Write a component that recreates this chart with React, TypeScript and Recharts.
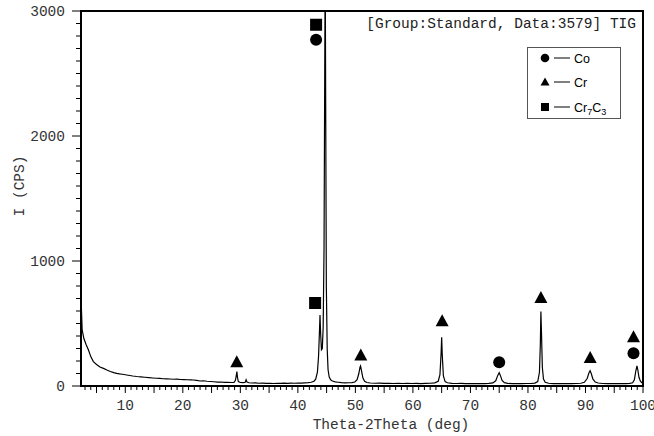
import { ComposedChart, Line, Scatter, XAxis, YAxis, ReferenceArea, Legend } from "recharts";

// measured pattern: [2theta (deg), intensity (CPS)]
const pattern: [number, number][] = [
  [2.35, 650], [2.5, 450], [2.8, 380], [3.2, 330], [3.6, 288], [4.0, 235], [4.45, 195], [5.0, 172], [5.6, 152], [6.2, 141],
  [6.8, 128], [7.4, 116], [8.0, 107], [8.5, 101], [9.0, 97], [9.5, 94], [10.0, 90], [10.5, 86], [11.3, 80], [12.0, 76],
  [12.7, 73], [13.4, 70], [14.1, 67], [14.8, 64], [15.4, 62], [16.0, 61], [16.6, 58], [17.2, 57], [17.8, 56], [18.4, 54],
  [19.0, 55], [19.6, 52], [20.2, 51], [20.8, 50], [21.4, 49], [21.8, 48], [22.4, 45], [23.0, 40], [23.6, 42], [24.2, 38],
  [24.8, 36], [25.4, 34], [26.0, 31], [26.6, 32], [27.2, 29], [27.8, 30], [28.4, 28], [28.9, 29], [29.15, 45], [29.3, 85],
  [29.4, 115], [29.5, 70], [29.65, 35], [30.0, 28], [30.5, 27], [30.85, 30], [31.0, 50], [31.15, 32], [31.5, 26], [32.0, 24],
  [32.6, 25], [33.2, 22], [33.8, 23], [34.6, 21], [35.2, 22], [35.8, 20], [36.4, 22], [37.0, 21], [37.6, 23], [38.2, 21],
  [38.8, 23], [39.4, 22], [40.0, 24], [40.6, 23], [41.2, 25], [41.8, 27], [42.3, 30], [42.8, 38], [43.1, 55], [43.4, 110],
  [43.6, 240], [43.75, 430], [43.85, 568], [43.95, 430], [44.1, 290], [44.25, 300], [44.4, 470], [44.55, 1100], [44.65, 2250], [44.75, 3400],
  [44.85, 2100], [44.95, 800], [45.1, 300], [45.25, 130], [45.45, 72], [45.7, 50], [46.0, 40], [46.5, 33], [47.0, 30], [47.6, 27],
  [48.2, 25], [48.8, 26], [49.4, 27], [49.9, 32], [50.3, 50], [50.6, 100], [50.8, 150], [50.9, 160], [51.05, 125], [51.3, 65],
  [51.6, 38], [52.0, 28], [52.6, 24], [53.4, 22], [54.2, 23], [55.0, 21], [55.8, 22], [56.6, 20], [57.4, 21], [58.2, 20],
  [59.0, 21], [59.8, 20], [60.6, 21], [61.4, 19], [62.2, 21], [63.0, 22], [63.8, 25], [64.4, 38], [64.7, 90], [64.9, 260],
  [65.0, 389], [65.1, 250], [65.3, 80], [65.6, 35], [66.0, 26], [66.8, 21], [67.6, 20], [68.4, 21], [69.2, 19], [70.0, 20],
  [70.8, 19], [71.6, 20], [72.4, 19], [73.2, 21], [73.9, 25], [74.4, 42], [74.75, 85], [75.0, 107], [75.2, 85], [75.5, 45],
  [75.9, 27], [76.5, 21], [77.3, 19], [78.1, 20], [78.9, 19], [79.7, 20], [80.5, 20], [81.2, 23], [81.7, 35], [82.0, 110],
  [82.15, 330], [82.25, 595], [82.35, 430], [82.5, 150], [82.7, 55], [83.0, 30], [83.6, 22], [84.4, 19], [85.2, 20], [86.0, 19],
  [86.8, 20], [87.6, 19], [88.4, 20], [89.2, 22], [89.8, 30], [90.3, 60], [90.6, 105], [90.8, 123], [91.0, 100], [91.3, 55],
  [91.7, 32], [92.2, 24], [93.0, 20], [93.8, 19], [94.6, 20], [95.4, 19], [96.2, 20], [97.0, 19], [97.7, 21], [98.2, 26],
  [98.5, 50], [98.75, 120], [98.95, 160], [99.1, 130], [99.3, 70], [99.55, 38], [99.8, 27], [100, 23],
];

// phase markers placed above the peaks
const coMarks: [number, number][] = [[43.17, 2770], [75.0, 190], [98.35, 262]];
const crMarks: [number, number][] = [[29.38, 195], [50.94, 248], [65.08, 523], [82.25, 709], [90.82, 229], [98.35, 395]];
const cr7c3Marks: [number, number][] = [[43.17, 2890], [43.0, 664]];

const xDomain = [2.3, 100];
const yDomain = [0, 3000];
const xTicks = Array.from({ length: 98 }, (_, i) => i + 3);
const yTicks = Array.from({ length: 31 }, (_, i) => i * 100);

const title = "[Group:Standard, Data:3579] TIG";
const xTitle = "Theta-2Theta (deg)";
const yTitle = "I (CPS)";

const MONO = "'Liberation Mono', 'Courier New', monospace";
const toPts = (arr: [number, number][]) => arr.map(([x, y]) => ({ x, y }));

function XTick({ x, y, payload }: any) {
  const v = payload.value;
  const len = v % 5 === 0 ? 7 : 4;
  return (
    <g>
      <line x1={x} x2={x} y1={y} y2={y + len} stroke="#000" />
      {v % 10 === 0 && (
        <text x={x} y={y + 24} textAnchor="middle" fontFamily={MONO} fontSize={14.5} fill="#333">
          {v}
        </text>
      )}
    </g>
  );
}

function YTick({ x, y, payload }: any) {
  const v = payload.value;
  const major = v % 1000 === 0;
  return (
    <g>
      <line x1={x - (major ? 9 : 5)} x2={x} y1={y} y2={y} stroke="#000" />
      {major && (
        <text x={x - 16} y={y} dy="0.35em" textAnchor="end" fontFamily={MONO} fontSize={14.5} fill="#333">
          {v}
        </text>
      )}
    </g>
  );
}

const Circle = ({ cx, cy }: any) => <circle cx={cx} cy={cy} r={6} fill="#000" />;
const Triangle = ({ cx, cy }: any) => (
  <polygon points={`${cx},${cy - 6.5} ${cx - 6.5},${cy + 5.5} ${cx + 6.5},${cy + 5.5}`} fill="#000" />
);
const Square = ({ cx, cy }: any) => <rect x={cx - 6} y={cy - 6} width={12} height={12} fill="#000" />;

function LegendBox() {
  return (
    <div style={{ width: 92, height: 70, border: "1px solid #555", background: "#fff" }}>
      <svg width={92} height={70} style={{ display: "block" }}>
        <circle cx={17} cy={10} r={4.3} fill="#000" />
        <polygon points="17,29.5 12.5,37.5 21.5,37.5" fill="#000" />
        <rect x={13} y={55} width={8} height={8} fill="#000" />
        {[10, 34, 59].map((cy) => (
          <line key={cy} x1={26} x2={42} y1={cy} y2={cy} stroke="#000" />
        ))}
        <g fontFamily="'Liberation Sans', Arial, sans-serif" fontSize={12.5} fill="#000">
          <text x={46} y={14.5}>Co</text>
          <text x={46} y={38.5}>Cr</text>
          <text x={46} y={63.5}>
            Cr<tspan fontSize={9} dy={3}>7</tspan>
            <tspan dy={-3}>C</tspan>
            <tspan fontSize={9} dy={3}>3</tspan>
          </text>
        </g>
      </svg>
    </div>
  );
}

export default function App() {
  return (
    <div style={{ position: "absolute", left: 0, top: 0, background: "#fff" }}>
      <ComposedChart width={654} height={436} margin={{ top: 11, right: 11, left: 0, bottom: 0 }}>
        <XAxis
          type="number"
          dataKey="x"
          domain={xDomain}
          allowDataOverflow
          ticks={xTicks}
          interval={0}
          tickSize={0}
          tickMargin={0}
          axisLine={false}
          tickLine={false}
          tick={<XTick />}
          height={50}
          label={{
            content: ({ viewBox }: any) => (
              <text
                x={(viewBox?.x ?? 81) + (viewBox?.width ?? 562) / 2 + 29}
                y={(viewBox?.y ?? 386) + 43}
                textAnchor="middle"
                fontFamily={MONO}
                fontSize={14.5}
                fill="#333"
              >
                {xTitle}
              </text>
            ),
          }}
        />
        <YAxis
          type="number"
          dataKey="y"
          domain={yDomain}
          allowDataOverflow
          ticks={yTicks}
          interval={0}
          tickSize={0}
          tickMargin={0}
          axisLine={false}
          tickLine={false}
          tick={<YTick />}
          width={81}
          label={{
            content: ({ viewBox }: any) => {
              const cx = 19;
              const cy = (viewBox?.y ?? 11) + 175;
              return (
                <text
                  x={cx}
                  y={cy}
                  transform={`rotate(-90, ${cx}, ${cy})`}
                  textAnchor="middle"
                  dy="0.35em"
                  fontFamily={MONO}
                  fontSize={14.5}
                  fill="#333"
                >
                  {yTitle}
                </text>
              );
            },
          }}
        />
        <Line
          data={toPts(pattern)}
          dataKey="y"
          type="linear"
          stroke="#000"
          strokeWidth={1.2}
          dot={false}
          activeDot={false}
          isAnimationActive={false}
        />
        <Scatter name="Co" data={toPts(coMarks)} dataKey="y" shape={<Circle />} isAnimationActive={false} />
        <Scatter name="Cr" data={toPts(crMarks)} dataKey="y" shape={<Triangle />} isAnimationActive={false} />
        <Scatter name="Cr7C3" data={toPts(cr7c3Marks)} dataKey="y" shape={<Square />} isAnimationActive={false} />
        <ReferenceArea
          x1={xDomain[0]}
          x2={xDomain[1]}
          y1={yDomain[0]}
          y2={yDomain[1]}
          fill="none"
          fillOpacity={0}
          stroke="#000"
          strokeWidth={2}
          label={{
            value: title,
            position: "insideTopRight",
            offset: 7,
            fontFamily: MONO,
            fontSize: 14.5,
            fill: "#222",
          }}
        />
        <Legend
          layout="horizontal"
          verticalAlign="middle"
          align="center"
          wrapperStyle={{ left: 527, top: 47, width: 94, height: 72 }}
          content={() => <LegendBox />}
        />
      </ComposedChart>
    </div>
  );
}
